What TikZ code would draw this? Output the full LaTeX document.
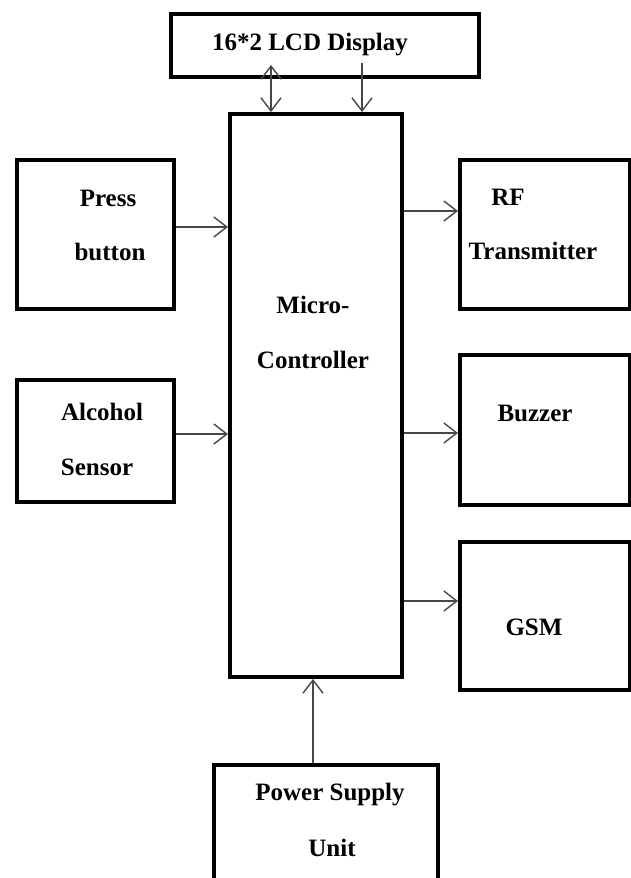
\documentclass[tikz,border=0pt]{standalone}
\usepackage{fontspec}
\setmainfont{Liberation Serif}
\usetikzlibrary{arrows.meta,calc}
\begin{document}
\begin{tikzpicture}[x=1pt,y=-1pt,
  blk/.style={draw=black,line width=4pt,rectangle,inner sep=0pt,anchor=north west},
  lbl/.style={font=\fontsize{25}{29}\selectfont\bfseries,inner sep=0pt,anchor=center},
  conn/.style={draw=black!72,line width=1.6pt,-{Straight Barb[length=13pt,width=20pt,line width=1.4pt]}},
  dconn/.style={draw=black!72,line width=1.6pt,{Straight Barb[length=13pt,width=20pt,line width=1.4pt]}-{Straight Barb[length=13pt,width=20pt,line width=1.4pt]}}]
\useasboundingbox (0,0) rectangle (631,878);
\clip (0,0) rectangle (631,878);
% boxes
\node[blk,minimum width=308pt,minimum height=63pt] (lcd) at (169,12) {};
\node[blk,minimum width=172pt,minimum height=563pt] (mc) at (228,112) {};
\node[blk,minimum width=157pt,minimum height=149pt] (press) at (15,158) {};
\node[blk,minimum width=157pt,minimum height=122pt] (alc) at (15,378) {};
\node[blk,minimum width=170pt,minimum height=149pt] (rf) at (458,158) {};
\node[blk,minimum width=170pt,minimum height=150pt] (buz) at (458,353) {};
\node[blk,minimum width=170pt,minimum height=148pt] (gsm) at (458,540) {};
\node[blk,minimum width=224pt,minimum height=140pt] (psu) at (212,763) {};
% labels
\node[lbl] (tlcd) at (310,45) {16*2 LCD Display};
\node[lbl] (tmc1) at (313,305) {Micro-};
\node[lbl] (tmc2) at (313,360) {Controller};
\node[lbl] (tpr1) at (108,198) {Press};
\node[lbl] (tpr2) at (110,252) {button};
\node[lbl] (tal1) at (102,412) {Alcohol};
\node[lbl] (tal2) at (97,467) {Sensor};
\node[lbl] (trf1) at (508,197) {RF};
\node[lbl] (trf2) at (533,251) {Transmitter};
\node[lbl] (tbz) at (535,413) {Buzzer};
\node[lbl] (tgsm) at (534,627) {GSM};
\node[lbl] (tps1) at (330,795) {Power Supply};
\node[lbl] (tps2) at (332,848) {Unit};
% connectors
\coordinate (lcdA) at (271,65);
\coordinate (lcdB) at (362,63);
\draw[dconn] (lcdA) -- (lcdA |- mc.north);
\draw[conn] (lcdB) -- (lcdB |- mc.north);
\draw[conn] (press.east |- 0,227) -- (mc.west |- 0,227);
\draw[conn] (alc.east |- 0,434) -- (mc.west |- 0,434);
\draw[conn] (mc.east |- 0,211) -- (rf.west |- 0,211);
\draw[conn] (mc.east |- 0,433) -- (buz.west |- 0,433);
\draw[conn] (mc.east |- 0,601) -- (gsm.west |- 0,601);
\draw[conn] (313,0 |- psu.north) -- (313,0 |- mc.south);
\end{tikzpicture}
\end{document}
